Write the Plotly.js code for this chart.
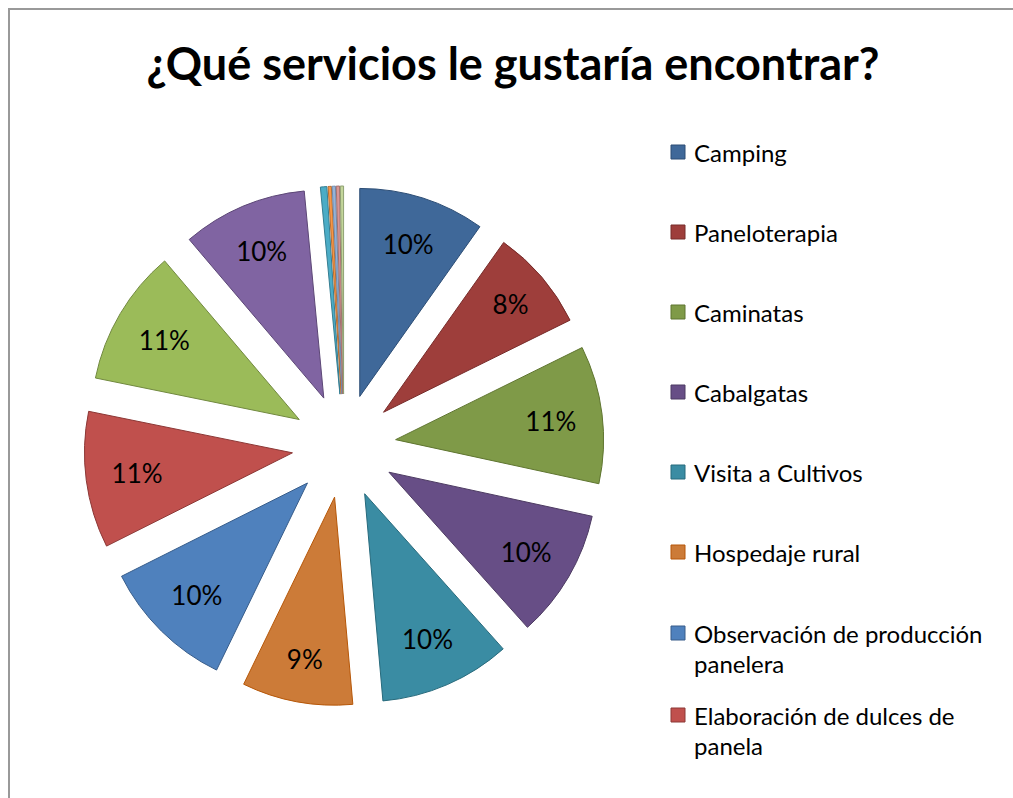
<!DOCTYPE html>
<html>
<head>
<meta charset="utf-8">
<script src="https://cdn.plot.ly/plotly-3.0.1.min.js"></script>
<style>html,body{margin:0;padding:0;background:#fff;}#chart{width:1013px;height:798px;}</style>
</head>
<body>
<div id="chart"></div>
<script>
// ---- data ----
const categories = [
  "Camping", "Paneloterapia", "Caminatas", "Cabalgatas", "Visita a Cultivos",
  "Hospedaje rural", "Observación de producción panelera", "Elaboración de dulces de panela",
  "Servicio 9", "Servicio 10", "Servicio 11", "Servicio 12", "Servicio 13", "Servicio 14", "Servicio 15"
];
const values = [9.8, 7.9, 10.7, 10.0, 10.2, 8.6, 10.4, 10.6, 10.6, 9.7, 0.5, 0.25, 0.25, 0.25, 0.25];
const legendCount = 8; // legend in the reference is cut after 8 entries
const fillColors = ["#3F6899", "#9E3E3B", "#7F9A48", "#674E86", "#3A8CA3", "#CC7B38", "#4F81BD", "#C0504D",
  "#9BBB59", "#8064A2", "#4BACC6", "#F79646", "#95B3D7", "#D99694", "#C3D69B"];
const lineColors = ["#2C4D75", "#772C2A", "#5F7530", "#4D3B62", "#276A7C", "#B65708", "#385D8A", "#8C3836",
  "#71893F", "#5C4776", "#357D91", "#B66D31", "#6E8BAE", "#A46F6D", "#8FA072"];

const W = 1013, H = 798;
const px = x => x / W, py = y => 1 - y / H;

const texts = values.map(v => v >= 1 ? "%{percent:.0%}" : "");

const trace = {
  type: "pie",
  labels: categories,
  values: values,
  sort: false,
  direction: "clockwise",
  rotation: 0,
  pull: values.map(() => 0.25),
  marker: {colors: fillColors, line: {color: lineColors, width: 1}},
  texttemplate: texts,
  textposition: "inside",
  insidetextorientation: "horizontal",
  textfont: {family: "Lato, 'Open Sans', sans-serif", size: 26, color: "#000"},
  domain: {x: [px(84), px(604)], y: [py(706), py(186)]},
  showlegend: false,
  hoverinfo: "label+percent"
};

// ---- manual legend (first 8 entries as in the reference) ----
function wrap(s, maxChars) {
  const words = s.split(" "); const lines = []; let cur = "";
  words.forEach(w => { const t = cur ? cur + " " + w : w; if (t.length > maxChars && cur) { lines.push(cur); cur = w; } else cur = t; });
  if (cur) lines.push(cur); return lines;
}
const annotations = [], shapes = [];
let yPos = 152;
for (let i = 0; i < legendCount; i++) {
  const lines = wrap(categories[i], 25);
  shapes.push({type: "rect", xref: "paper", yref: "paper",
    x0: px(671), x1: px(685), y0: py(yPos + 7), y1: py(yPos - 7),
    fillcolor: fillColors[i], line: {color: lineColors[i], width: 1}});
  lines.forEach((ln, k) => {
    annotations.push({xref: "paper", yref: "paper", x: px(692), y: py(yPos + 30 * k),
      xanchor: "left", yanchor: "middle", showarrow: false, text: ln,
      font: {family: "Lato, 'Open Sans', sans-serif", size: 24, color: "#000"}});
  });
  yPos += lines.length > 1 ? 82 : 80;
  if (i === 5) yPos = 633;
}
// chart frame
shapes.push({type: "rect", xref: "paper", yref: "paper", x0: px(9), x1: 1.1, y0: -0.1, y1: py(9),
  line: {color: "#999999", width: 2}, fillcolor: "rgba(0,0,0,0)", layer: "below"});

const layout = {
  width: W, height: H,
  margin: {l: 0, r: 0, t: 0, b: 0},
  paper_bgcolor: "#fff",
  title: {text: "<b>¿Qué servicios le gustaría encontrar?</b>", x: px(513), xanchor: "center",
    y: py(64), yanchor: "middle", font: {family: "Lato, 'Open Sans', sans-serif", size: 45, color: "#000"}},
  showlegend: false,
  shapes: shapes,
  annotations: annotations
};

Plotly.newPlot("chart", [trace], layout, {displayModeBar: false});
</script>
</body>
</html>
